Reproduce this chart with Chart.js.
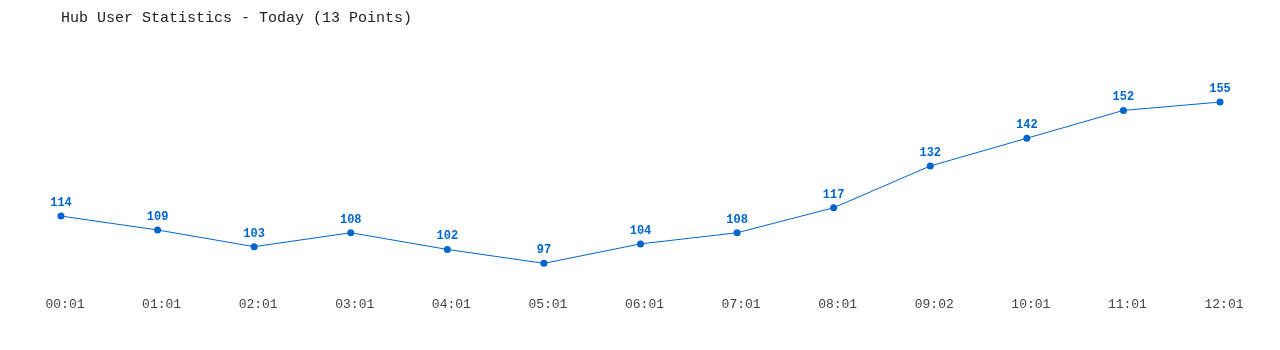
<!DOCTYPE html>
<html>
<head>
<meta charset="utf-8">
<script src="https://cdn.jsdelivr.net/npm/chart.js@4"></script>
<style>
  html, body { margin: 0; padding: 0; background: #fff; }
  #wrap { width: 1280px; height: 350px; }
</style>
</head>
<body>
<div id="wrap"><canvas id="hubChart"></canvas></div>
<script>
// dati
const orari = ["00:01", "01:01", "02:01", "03:01", "04:01", "05:01", "06:01", "07:01", "08:01", "09:02", "10:01", "11:01", "12:01"];
const utenti = [114, 109, 103, 108, 102, 97, 104, 108, 117, 132, 142, 152, 155];

const font = "'Liberation Mono', 'DejaVu Sans Mono', monospace";
const blu = "#0066cc";

// etichette sopra i punti
const etichette = {
    id: "etichette",
    afterDatasetsDraw(chart) {
        const ctx = chart.ctx;
        const meta = chart.getDatasetMeta(0);
        ctx.save();
        ctx.font = "bold 12px " + font;
        ctx.fillStyle = blu;
        ctx.textAlign = "center";
        ctx.textBaseline = "middle";
        meta.data.forEach((p, i) => {
            ctx.fillText(String(utenti[i]), p.x, p.y - 13);
        });
        ctx.restore();
    }
};

new Chart(document.getElementById("hubChart"), {
    type: "line",
    data: {
        labels: orari,
        datasets: [{
            label: "Utenti",
            data: utenti,
            borderColor: blu,
            backgroundColor: blu,
            borderWidth: 1,
            pointRadius: 3.5,
            pointBackgroundColor: blu,
            pointBorderWidth: 0,
            tension: 0,
            fill: false
        }]
    },
    options: {
        responsive: true,
        maintainAspectRatio: false,
        animation: false,
        layout: { padding: { left: 61, right: 60, top: 0, bottom: 27 } },
        plugins: {
            legend: { display: false },
            tooltip: { enabled: false },
            title: {
                display: true,
                text: "Hub User Statistics - Today (13 Points)",
                align: "start",
                color: "#222",
                font: { family: font, size: 15, weight: "normal" },
                padding: { top: 9, bottom: 0 }
            }
        },
        scales: {
            x: {
                offset: false,
                grid: { display: false, drawTicks: false },
                border: { display: false },
                ticks: {
                    color: "#444",
                    font: { family: font, size: 13 },
                    padding: 11,
                    labelOffset: 4,
                    maxRotation: 0,
                    autoSkip: false
                }
            },
            y: {
                display: false,
                min: 89.07,
                max: 182.0
            }
        }
    },
    plugins: [etichette]
});
</script>
</body>
</html>
